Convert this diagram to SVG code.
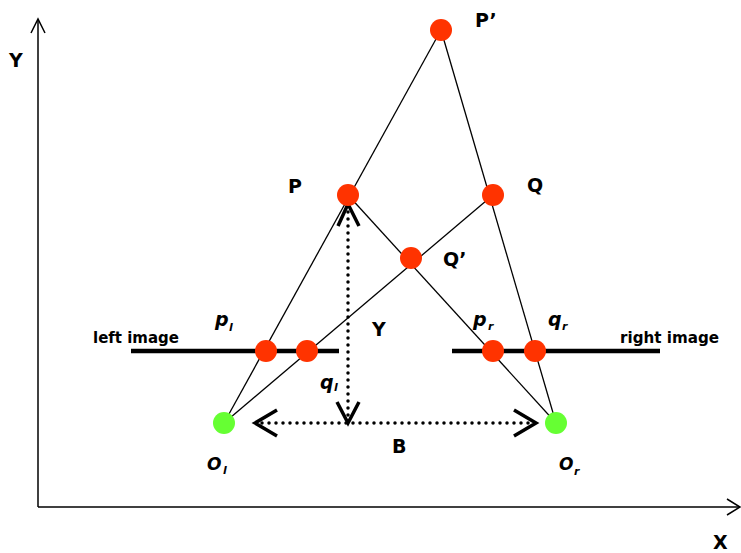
<svg xmlns="http://www.w3.org/2000/svg" width="741" height="553" viewBox="0 0 741 553">
<style>
.ax{stroke:#000;stroke-width:1.5;fill:none}
.ray{stroke:#000;stroke-width:1.3;fill:none}
.img{stroke:#000;stroke-width:4.5}
.dot{stroke:#000;stroke-width:3.5;stroke-linecap:round;stroke-dasharray:0 7;fill:none}
.head{stroke:#000;stroke-width:3.5;fill:none}
.pt{fill:#FF3300}
.org{fill:#66FF33}
text{font-family:"DejaVu Sans",Verdana,sans-serif;font-weight:bold;fill:#000}
.lab{font-size:19px}
.cap{font-size:15px}
.it{font-style:italic;font-size:19px}
.itO{font-style:italic;font-size:17px}
.sub{font-style:italic;font-size:11px}
</style>
<rect width="741" height="553" fill="#fff"/>
<g id="axes">
<line class="ax" x1="38" y1="507" x2="38" y2="20"/>
<polyline class="ax" points="31,33 38,19 45,33"/>
<line class="ax" x1="38" y1="507" x2="740" y2="507"/>
<polyline class="ax" points="727,499 740,507 727,515"/>
<text class="lab" x="9" y="67">Y</text>
<text class="lab" x="713" y="549">X</text>
</g>
<g id="connectors">
<line class="ray" x1="224" y1="423" x2="441" y2="30"/>
<line class="ray" x1="224" y1="423" x2="493" y2="195"/>
<line class="ray" x1="556" y1="423" x2="348" y2="195"/>
<line class="ray" x1="556" y1="423" x2="441" y2="30"/>
<line class="dot" x1="348" y1="212" x2="348" y2="420"/>
<polyline class="head" points="338,226 348,204 359,226"/>
<polyline class="head" points="337,402 348,423 359,402"/>
<line class="dot" x1="262" y1="423" x2="532" y2="423"/>
<polyline class="head" points="277,410 255,423 277,436"/>
<polyline class="head" points="514,410 536,423 514,436"/>
<text class="lab" x="372" y="336">Y</text>
<text class="lab" x="392" y="453">B</text>
</g>
<g id="left-image">
<line class="img" x1="131" y1="351" x2="339" y2="351"/>
<text class="cap" x="93" y="343" textLength="86" lengthAdjust="spacingAndGlyphs">left image</text>
</g>
<g id="right-image">
<line class="img" x1="452" y1="351" x2="660" y2="351"/>
<text class="cap" x="620" y="343" textLength="99" lengthAdjust="spacingAndGlyphs">right image</text>
</g>
<g id="node-Pprime"><circle class="pt" cx="441" cy="30" r="11"/><text class="lab" x="475" y="27">P’</text></g>
<g id="node-P"><circle class="pt" cx="348" cy="195" r="11"/><text class="lab" x="288" y="193">P</text></g>
<g id="node-Q"><circle class="pt" cx="493" cy="195" r="11"/><text class="lab" x="527" y="192">Q</text></g>
<g id="node-Qprime"><circle class="pt" cx="411" cy="258" r="11"/><text class="lab" x="443" y="266">Q’</text></g>
<g id="node-pl"><circle class="pt" cx="266" cy="351" r="11"/><text class="it" x="215" y="326">p</text><text class="sub" x="229" y="331">l</text></g>
<g id="node-ql"><circle class="pt" cx="307" cy="351" r="11"/><text class="it" x="320" y="389">q</text><text class="sub" x="334" y="391">l</text></g>
<g id="node-pr"><circle class="pt" cx="493" cy="351" r="11"/><text class="it" x="473" y="326">p</text><text class="sub" x="488" y="330">r</text></g>
<g id="node-qr"><circle class="pt" cx="535" cy="351" r="11"/><text class="it" x="548" y="326">q</text><text class="sub" x="562" y="330">r</text></g>
<g id="node-Ol"><circle class="org" cx="224" cy="423" r="11"/><text class="itO" x="207" y="470">O</text><text class="sub" x="223" y="474">l</text></g>
<g id="node-Or"><circle class="org" cx="556" cy="423" r="11"/><text class="itO" x="559" y="470">O</text><text class="sub" x="574" y="475">r</text></g>
</svg>
